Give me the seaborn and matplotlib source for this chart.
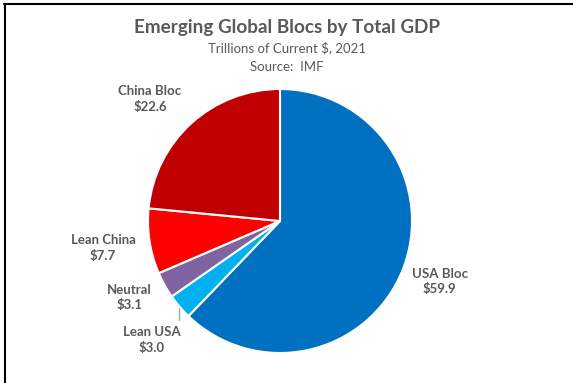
import matplotlib
matplotlib.use("Agg")
import matplotlib.pyplot as plt
import seaborn as sns
from matplotlib.lines import Line2D

# Data
blocs = ["USA Bloc", "Lean USA", "Neutral", "Lean China", "China Bloc"]
gdp = [59.9, 3.0, 3.1, 7.7, 22.6]
bloc_colors = ["#0070C0", "#00B0F0", "#8064A2", "#FF0000", "#C00000"]

# label positions (axes data units, pie radius = 1)
label_pos = {
    "USA Bloc": (1.21, -0.46),
    "Lean USA": (-0.97, -0.90),
    "Neutral": (-1.14, -0.58),
    "Lean China": (-1.34, -0.205),
    "China Bloc": (-0.985, 0.924),
}

sns.set_theme(style="white")
plt.rcParams["font.family"] = ["Lato", "DejaVu Sans"]
text_gray = "#595959"

W, H = 573, 383
fig = plt.figure(figsize=(W / 100, H / 100), dpi=100)
fig.patch.set_facecolor("white")

# pie axes placed so the circle sits where it does in the reference
cx, cy, r = 280, 221, 132
ax = fig.add_axes([(cx - r) / W, 1 - (cy + r) / H, 2 * r / W, 2 * r / H])
ax.pie(gdp, colors=sns.color_palette(bloc_colors), startangle=90, counterclock=False,
       wedgeprops=dict(edgecolor="white", linewidth=1.5))
ax.set_xlim(-1, 1)
ax.set_ylim(-1, 1)
ax.axis("off")

for name, val in zip(blocs, gdp):
    x, y = label_pos[name]
    ax.text(x, y, f"{name}\n${val:.1f}", ha="center", va="center", fontsize=9.5,
            fontweight="bold", color=text_gray, linespacing=1.35)

# leader line for Lean USA
ax.plot([-0.765, -0.765], [-0.66, -0.75], color="#A6A6A6", lw=1, clip_on=False)

# titles
fig.text(0.5, 1 - 28 / H, "Emerging Global Blocs by Total GDP", ha="center", va="center",
         fontsize=13.6, fontweight="bold", color=text_gray)
fig.text(0.5, 1 - 48 / H, "Trillions of Current $, 2021", ha="center", va="center",
         fontsize=9.5, color=text_gray)
fig.text(0.5, 1 - 67 / H, "Source:  IMF", ha="center", va="center",
         fontsize=9.5, color=text_gray)

# chart frame (top and left edges visible in the crop)
fig.add_artist(Line2D([4 / W, 1], [1 - 3.5 / H, 1 - 3.5 / H], color="black", lw=1.5))
fig.add_artist(Line2D([4.5 / W, 4.5 / W], [0, 1 - 3.5 / H], color="black", lw=1.5))

fig.savefig("out.png", dpi=100)
